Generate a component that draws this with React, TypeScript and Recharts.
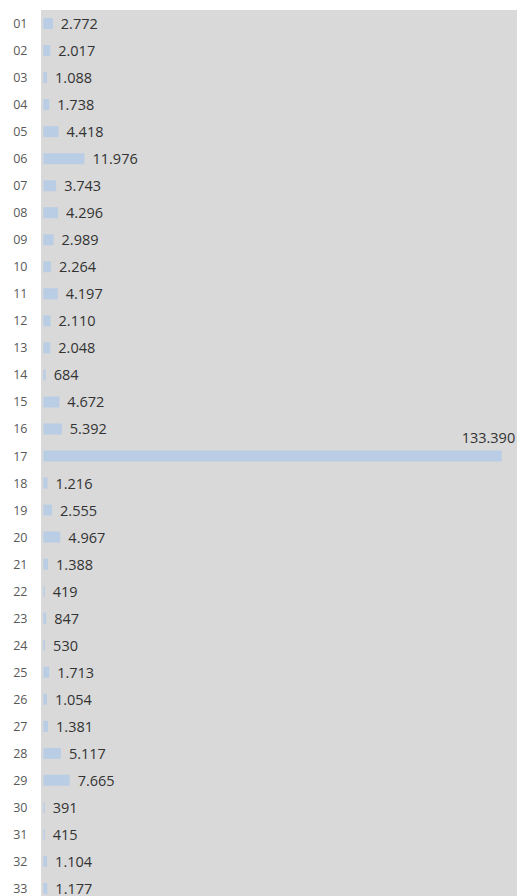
import React from "react";
import { BarChart, Bar, XAxis, YAxis, CartesianGrid, LabelList } from "recharts";

const categories = [
  "01", "02", "03", "04", "05", "06", "07", "08", "09", "10", "11",
  "12", "13", "14", "15", "16", "17", "18", "19", "20", "21", "22",
  "23", "24", "25", "26", "27", "28", "29", "30", "31", "32", "33",
];

const values = [
  2772, 2017, 1088, 1738, 4418, 11976, 3743, 4296, 2989, 2264, 4197,
  2110, 2048, 684, 4672, 5392, 133390, 1216, 2555, 4967, 1388, 419,
  847, 530, 1713, 1054, 1381, 5117, 7665, 391, 415, 1104, 1177,
];

const data = categories.map((c, i) => ({ name: c, value: values[i] }));
const maxValue = Math.max(...values);

const fmt = (n: number) => String(n).replace(/\B(?=(\d{3})+(?!\d))/g, ".");

const FONT = "'Open Sans', 'Noto Sans', sans-serif";

const ValueLabel = (props: any) => {
  const { x, y, width, height, value } = props;
  const cy = Number(y) + Number(height) / 2;
  const end = Number(x) + Number(width);
  if (value === maxValue) {
    return (
      <text
        x={end + 13.5}
        y={cy - 18.5}
        textAnchor="end"
        dominantBaseline="central"
        fill="#333333"
        fontFamily={FONT}
        fontSize={14.5}
      >
        {fmt(value)}
      </text>
    );
  }
  return (
    <text
      x={end + 8}
      y={cy}
      textAnchor="start"
      dominantBaseline="central"
      fill="#333333"
      fontFamily={FONT}
      fontSize={14.5}
    >
      {fmt(value)}
    </text>
  );
};

const CatTick = (props: any) => {
  const { y, payload } = props;
  return (
    <text
      x={27.5}
      y={Number(y)}
      textAnchor="end"
      dominantBaseline="central"
      fill="#595959"
      fontFamily={FONT}
      fontSize={12.5}
    >
      {payload.value}
    </text>
  );
};

export default function App() {
  return (
    <div style={{ position: "absolute", left: 0, top: 0, width: 517, height: 902 }}>
      <BarChart
        width={517}
        height={902}
        data={data}
        layout="vertical"
        margin={{ top: 10, right: 0, bottom: 0, left: 0 }}
      >
        <CartesianGrid horizontal={false} vertical={false} fill="#d9d9d9" stroke="none" />
        <XAxis type="number" hide domain={[-670, 137840]} allowDataOverflow />
        <YAxis
          type="category"
          dataKey="name"
          width={41}
          axisLine={false}
          tickLine={false}
          interval={0}
          tick={<CatTick />}
        />
        <Bar dataKey="value" fill="#b9cde5" barSize={11} isAnimationActive={false}>
          <LabelList dataKey="value" content={<ValueLabel />} />
        </Bar>
      </BarChart>
    </div>
  );
}
